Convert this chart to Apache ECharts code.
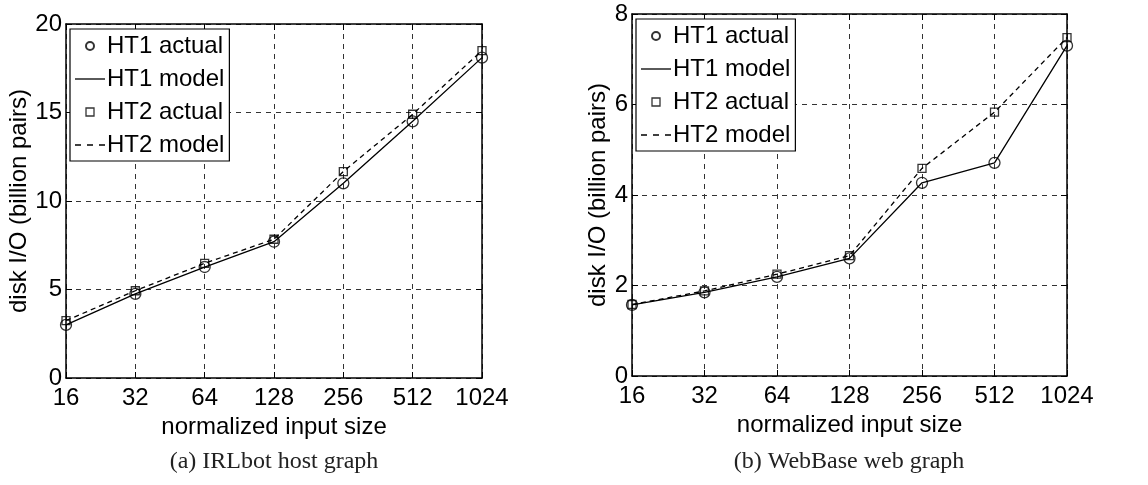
<!DOCTYPE html>
<html>
<head>
<meta charset="utf-8">
<script src="https://cdn.jsdelivr.net/npm/echarts@6/dist/echarts.min.js"></script>
<style>
html,body{margin:0;padding:0;background:#fff;}
#chart{width:1148px;height:485px;}
</style>
</head>
<body>
<div id="chart"></div>
<script>
// ---- data ----
var xCategories = ['16', '32', '64', '128', '256', '512', '1024'];
var seriesNames = ['HT1 actual', 'HT1 model', 'HT2 actual', 'HT2 model'];

// (a) IRLbot host graph
var irlHT1Actual = [3.0, 4.75, 6.27, 7.7, 11.0, 14.5, 18.1];
var irlHT1Model  = [3.0, 4.75, 6.27, 7.7, 11.0, 14.5, 18.1];
var irlHT2Actual = [3.24, 4.93, 6.48, 7.84, 11.66, 14.9, 18.5];
var irlHT2Model  = [3.24, 4.93, 6.48, 7.84, 11.66, 14.9, 18.5];

// (b) WebBase web graph
var wbHT1Actual = [1.57, 1.85, 2.19, 2.6, 4.27, 4.71, 7.3];
var wbHT1Model  = [1.57, 1.85, 2.19, 2.6, 4.27, 4.71, 7.3];
var wbHT2Actual = [1.58, 1.88, 2.25, 2.66, 4.59, 5.83, 7.48];
var wbHT2Model  = [1.58, 1.88, 2.25, 2.66, 4.59, 5.83, 7.48];

var yTicksA = [0, 5, 10, 15, 20];
var yTicksB = [0, 2, 4, 6, 8];

var xTitle = 'normalized input size';
var yTitle = 'disk I/O (billion pairs)';
var captionA = '(a) IRLbot host graph';
var captionB = '(b) WebBase web graph';

// ---- chart ----
var SANS = 'Liberation Sans, Arial, Helvetica, sans-serif';
var SERIF = 'Liberation Serif, DejaVu Serif, serif';
var FS = 24;
var dashGrid = { show: true, lineStyle: { color: '#333', width: 1, type: [5, 5] } };
var frameLine = { show: true, onZero: false, lineStyle: { color: '#000', width: 1.5 } };
var tickIn = { show: true, inside: true, length: 6, lineStyle: { color: '#000', width: 1 } };

var ICON_SOLID = 'path://M0,0H30V1.3H0Z';
var ICON_DASH = 'path://M0,0H6V1.3H0Z M12,0H18V1.3H12Z M24,0H30V1.3H24Z';
var ICON_SQUARE = 'path://M0,0H10V10H0Z';

function xBottom(gi) {
  return {
    type: 'category', gridIndex: gi, data: xCategories, boundaryGap: false, position: 'bottom',
    axisLine: frameLine, axisTick: tickIn, splitLine: dashGrid,
    axisLabel: { color: '#000', fontFamily: SANS, fontSize: FS, margin: 8, interval: 0 },
    name: xTitle, nameLocation: 'middle', nameGap: 33,
    nameTextStyle: { color: '#000', fontFamily: SANS, fontSize: FS }
  };
}
function xTop(gi) {
  return {
    type: 'category', gridIndex: gi, data: xCategories, boundaryGap: false, position: 'top',
    axisLine: frameLine, axisTick: tickIn, splitLine: { show: false },
    axisLabel: { show: false }
  };
}
function yLeft(gi, ticks, gap) {
  return {
    type: 'value', gridIndex: gi, position: 'left',
    min: ticks[0], max: ticks[ticks.length - 1], interval: ticks[1] - ticks[0],
    axisLine: frameLine, axisTick: tickIn, splitLine: dashGrid,
    axisLabel: { color: '#000', fontFamily: SANS, fontSize: FS, margin: 4 },
    name: yTitle, nameLocation: 'middle', nameGap: gap, nameRotate: 90,
    nameTextStyle: { color: '#000', fontFamily: SANS, fontSize: FS }
  };
}
function yRight(gi, ticks) {
  return {
    type: 'value', gridIndex: gi, position: 'right',
    min: ticks[0], max: ticks[ticks.length - 1], interval: ticks[1] - ticks[0],
    axisLine: frameLine, axisTick: tickIn, splitLine: { show: false },
    axisLabel: { show: false }
  };
}

function actualSeries(name, data, idx, symbol, size) {
  return {
    name: name, type: 'scatter', xAxisIndex: idx, yAxisIndex: idx, data: data,
    symbol: symbol, symbolSize: size,
    itemStyle: { color: 'rgba(0,0,0,0)', borderColor: '#000', borderWidth: 1.3 },
    z: 5
  };
}
function modelSeries(name, data, idx, dashed) {
  return {
    name: name, type: 'line', xAxisIndex: idx, yAxisIndex: idx, data: data,
    symbol: 'none', showSymbol: false,
    lineStyle: { color: '#000', width: 1.3, type: dashed ? [5, 4] : 'solid' },
    itemStyle: { color: '#000' },
    z: 4
  };
}
function legendAt(left, top) {
  return {
    data: [
      { name: seriesNames[0], icon: 'circle' },
      { name: seriesNames[1], icon: ICON_SOLID, itemStyle: { color: '#000', borderWidth: 0 } },
      { name: seriesNames[2], icon: ICON_SQUARE, itemStyle: { color: 'rgba(0,0,0,0)', borderColor: '#000', borderWidth: 1.3 } },
      { name: seriesNames[3], icon: ICON_DASH, itemStyle: { color: '#000', borderWidth: 0 } }
    ],
    orient: 'vertical', left: left, top: top,
    itemWidth: 30, itemHeight: 8, itemGap: 9,
    symbolKeepAspect: true,
    padding: [5, 5, 4, 5],
    backgroundColor: '#fff', borderColor: '#000', borderWidth: 1.2,
    textStyle: { color: '#000', fontFamily: SANS, fontSize: FS, padding: [0, 0, 0, -3] },
    selectedMode: false
  };
}

var chart = echarts.init(document.getElementById('chart'), null, { renderer: 'canvas' });
chart.setOption({
  animation: false,
  backgroundColor: '#fff',
  grid: [
    { left: 66, top: 24, width: 416, height: 354 },
    { left: 632, top: 14, width: 435, height: 362 }
  ],
  xAxis: [xBottom(0), xTop(0), xBottom(1), xTop(1)],
  yAxis: [yLeft(0, yTicksA, 34), yRight(0, yTicksA), yLeft(1, yTicksB, 22), yRight(1, yTicksB)],
  legend: [legendAt(70, 29), legendAt(636, 19)],
  series: [
    actualSeries('HT1 actual', irlHT1Actual, 0, 'circle', 11),
    modelSeries('HT1 model', irlHT1Model, 0, false),
    actualSeries('HT2 actual', irlHT2Actual, 0, 'rect', 8),
    modelSeries('HT2 model', irlHT2Model, 0, true),
    actualSeries('HT1 actual', wbHT1Actual, 2, 'circle', 11),
    modelSeries('HT1 model', wbHT1Model, 2, false),
    actualSeries('HT2 actual', wbHT2Actual, 2, 'rect', 8),
    modelSeries('HT2 model', wbHT2Model, 2, true)
  ],
  graphic: [
    { type: 'text', x: 274, y: 462, style: { text: captionA, fill: '#222', font: '24px ' + SERIF, align: 'center', verticalAlign: 'middle' } },
    { type: 'text', x: 849, y: 462, style: { text: captionB, fill: '#222', font: '24px ' + SERIF, align: 'center', verticalAlign: 'middle' } }
  ]
});
</script>
</body>
</html>
